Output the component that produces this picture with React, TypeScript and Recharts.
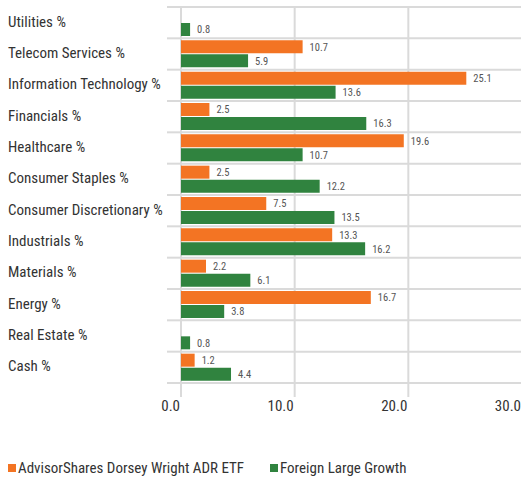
import React from "react";
import {
  BarChart,
  Bar,
  XAxis,
  YAxis,
  CartesianGrid,
  LabelList,
} from "recharts";

const categories = [
  "Utilities %",
  "Telecom Services %",
  "Information Technology %",
  "Financials %",
  "Healthcare %",
  "Consumer Staples %",
  "Consumer Discretionary %",
  "Industrials %",
  "Materials %",
  "Energy %",
  "Real Estate %",
  "Cash %",
];

const etfValues: (number | null)[] = [
  null, 10.7, 25.1, 2.5, 19.6, 2.5, 7.5, 13.3, 2.2, 16.7, null, 1.2,
];

const peerValues: number[] = [
  0.8, 5.9, 13.6, 16.3, 10.7, 12.2, 13.5, 16.2, 6.1, 3.8, 0.8, 4.4,
];

const xTicks = [0, 10, 20, 30];

const ETF_NAME = "AdvisorShares Dorsey Wright ADR ETF";
const PEER_NAME = "Foreign Large Growth";

const ORANGE = "#F37423";
const GREEN = "#30833F";
const GRID = "#dadada";
const FONT = '"Liberation Sans Narrow", "Arial Narrow", "Roboto Condensed", sans-serif';

const CHART_W = 530;
const CHART_H = 420;
const MARGIN = { top: 7, right: 8, bottom: 0, left: 0 };
const Y_W = 181;
const X_H = 37;
const PLOT_H = CHART_H - MARGIN.top - MARGIN.bottom - X_H;
const BAND = PLOT_H / categories.length;

const data = categories.map((name, i) => ({
  name,
  etf: etfValues[i],
  peer: peerValues[i],
}));

const CategoryTick = (props: any) => {
  const { x, y, payload, index } = props;
  const left = Y_W + MARGIN.left;
  const top = y - BAND / 2;
  return (
    <g>
      <line x1={left - 14} x2={left} y1={top} y2={top} stroke={GRID} strokeWidth={2} />
      {index === categories.length - 1 && (
        <line
          x1={left - 14}
          x2={left}
          y1={top + BAND}
          y2={top + BAND}
          stroke={GRID}
          strokeWidth={2}
        />
      )}
      <text x={8} y={y} dy={4} fill="#333" fontSize={15} fontFamily={FONT} textAnchor="start">
        {payload.value}
      </text>
    </g>
  );
};

const ValueTick = (props: any) => {
  const { x, y, payload } = props;
  return (
    <text x={x - 1} y={y} dy={12} fill="#333" fontSize={15} fontFamily={FONT} textAnchor="end">
      {payload.value.toFixed(1)}
    </text>
  );
};

const Swatch = ({ color, label, gap }: { color: string; label: string; gap: number }) => (
  <span style={{ display: "inline-flex", alignItems: "center", marginRight: gap }}>
    <span style={{ width: 8, height: 8, background: color, display: "inline-block", marginRight: 2 }} />
    <span>{label}</span>
  </span>
);

export default function App() {
  return (
    <div style={{ position: "absolute", left: 0, top: 0, width: 521, height: 479, overflow: "hidden", background: "#fff" }}>
      <BarChart
        width={CHART_W}
        height={CHART_H}
        data={data}
        layout="vertical"
        margin={MARGIN}
        barSize={13}
        barGap={1}
      >
        <CartesianGrid
          stroke={GRID}
          strokeWidth={2}
          horizontalCoordinatesGenerator={({ offset }: any) =>
            categories
              .map((_, i) => offset.top + (i * offset.height) / categories.length)
              .concat(offset.top + offset.height)
          }
        />
        <XAxis
          type="number"
          domain={[0, 30]}
          ticks={xTicks}
          height={X_H}
          axisLine={false}
          tickLine={{ stroke: GRID, strokeWidth: 2 }}
          tickSize={14}
          tick={<ValueTick />}
          interval={0}
        />
        <YAxis
          type="category"
          dataKey="name"
          width={Y_W}
          axisLine={false}
          tickLine={false}
          tick={<CategoryTick />}
          interval={0}
        />
        <Bar dataKey="etf" name={ETF_NAME} fill={ORANGE} isAnimationActive={false}>
          <LabelList
            dataKey="etf"
            position="right"
            offset={7}
            fill="#555"
            fontSize={10.5}
            fontFamily={FONT}
            formatter={(v: any) => (v == null ? "" : Number(v).toFixed(1))}
          />
        </Bar>
        <Bar dataKey="peer" name={PEER_NAME} fill={GREEN} isAnimationActive={false}>
          <LabelList
            dataKey="peer"
            position="right"
            offset={7}
            fill="#555"
            fontSize={10.5}
            fontFamily={FONT}
            formatter={(v: any) => Number(v).toFixed(1)}
          />
        </Bar>
      </BarChart>
      <div
        style={{
          position: "absolute",
          left: 8,
          top: 458,
          fontFamily: FONT,
          fontSize: 15,
          color: "#333",
          lineHeight: "18px",
          whiteSpace: "nowrap",
        }}
      >
        <Swatch color={ORANGE} label={ETF_NAME} gap={26} />
        <Swatch color={GREEN} label={PEER_NAME} gap={0} />
      </div>
    </div>
  );
}
